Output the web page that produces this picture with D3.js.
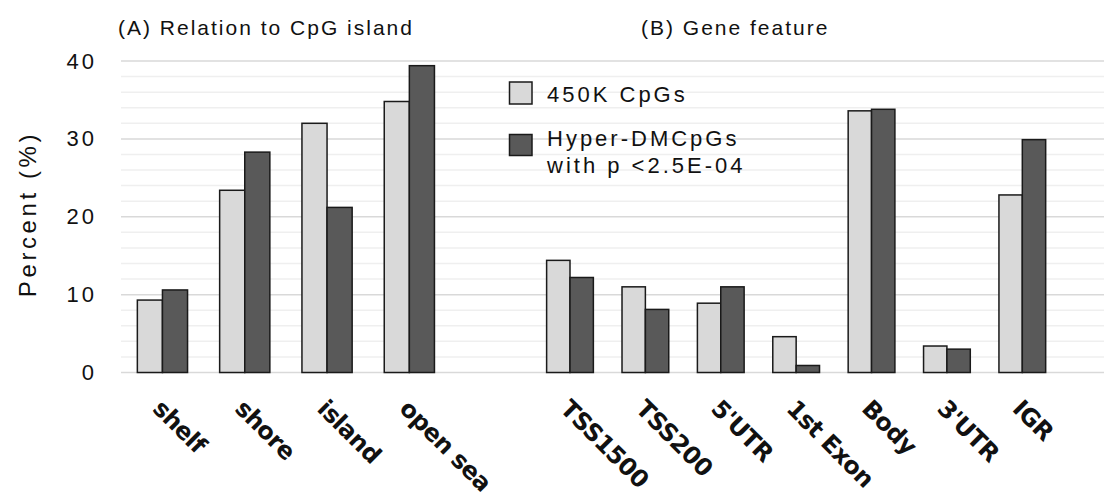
<!DOCTYPE html>
<html>
<head>
<meta charset="utf-8">
<script src="https://cdn.jsdelivr.net/npm/d3@7"></script>
<style>
  body { margin: 0; background: #fff; }
  text { font-family: "Liberation Sans", Arial, sans-serif; fill: #111; }
</style>
</head>
<body>
<div id="chart"></div>
<script>
const width = 1104, height = 502;

// values
const islandCats = ["shelf", "shore", "island", "open sea"];
const island450K = [9.3, 23.4, 32.0, 34.8];
const islandHyper = [10.6, 28.3, 21.2, 39.4];

const geneCats = ["TSS1500", "TSS200", "5'UTR", "1st Exon", "Body", "3'UTR", "IGR"];
const gene450K = [14.4, 11.0, 8.9, 4.6, 33.6, 3.4, 22.8];
const geneHyper = [12.2, 8.1, 11.0, 0.9, 33.8, 3.0, 29.9];

const seriesNames = ["450K CpGs", "Hyper-DMCpGs"];
const seriesColors = ["#d9d9d9", "#595959"];
const yTicks = [0, 10, 20, 30, 40];

let svg = d3.select("#chart")
    .append("svg")
    .attr("width", width)
    .attr("height", height);

let y = d3.scaleLinear()
    .domain([0, 40])
    .range([372.5, 61]);

// gridlines every 2, darker every 10
let grid = svg.append("g");
grid.selectAll("line")
    .data(d3.range(0, 41, 2))
    .enter()
    .append("line")
    .attr("x1", 121)
    .attr("x2", width)
    .attr("y1", d => y(d))
    .attr("y2", d => y(d))
    .attr("stroke", d => d % 10 == 0 ? "#d9d9d9" : "#efefef")
    .attr("stroke-width", 1.5);

let yAxis = svg.append("g")
    .attr("transform", "translate(97, 0)")
    .call(d3.axisLeft(y).tickValues(yTicks).tickSize(0).tickPadding(0));
yAxis.select(".domain").remove();
yAxis.selectAll("text")
    .style("font-family", '"Liberation Sans", Arial, sans-serif')
    .style("font-size", "22px")
    .style("letter-spacing", "3px")
    .attr("fill", "#111");

svg.append("text")
    .attr("transform", `translate(36, 214) rotate(-90)`)
    .style("text-anchor", "middle")
    .style("font-size", "24px")
    .style("letter-spacing", "3.6px")
    .text("Percent (%)");

function drawPanel(cats, vals, range, padding, title, titleX) {
    let x0 = d3.scaleBand()
        .domain(cats)
        .range(range)
        .paddingInner(padding)
        .paddingOuter(padding / 2);

    let x1 = d3.scaleBand()
        .domain(seriesNames)
        .range([0, x0.bandwidth()]);

    let rows = cats.map((c, i) => ({ cat: c, vals: vals.map(v => v[i]) }));

    let groups = svg.append("g").selectAll("g")
        .data(rows)
        .enter()
        .append("g")
        .attr("transform", d => `translate(${x0(d.cat)}, 0)`);

    groups.selectAll("rect")
        .data(d => d.vals.map((v, j) => ({ name: seriesNames[j], value: v, color: seriesColors[j] })))
        .enter()
        .append("rect")
        .attr("x", d => x1(d.name))
        .attr("y", d => y(d.value))
        .attr("width", x1.bandwidth())
        .attr("height", d => y(0) - y(d.value))
        .attr("fill", d => d.color)
        .attr("stroke", "#1a1a1a")
        .attr("stroke-width", 1.5);

    svg.append("g").selectAll("text")
        .data(cats)
        .enter()
        .append("text")
        .attr("transform", d => `translate(${x0(d) + x0.bandwidth() / 2 - 11}, 410) rotate(45)`)
        .style("font-family", '"DejaVu Sans", sans-serif')
        .style("font-weight", "bold")
        .style("font-size", "24px")
        .style("letter-spacing", "-0.6px")
        .text(d => d);

    svg.append("text")
        .attr("x", titleX)
        .attr("y", 35)
        .style("font-size", "21px")
        .style("letter-spacing", "2px")
        .text(title);
}

drawPanel(islandCats, [island450K, islandHyper], [121.3, 450.5], 0.39, "(A) Relation to CpG island", 118);
drawPanel(geneCats, [gene450K, geneHyper], [532.3, 1060], 0.38, "(B) Gene feature", 641);

// legend
let legend = svg.append("g");
legend.append("rect")
    .attr("x", 509.5).attr("y", 82)
    .attr("width", 22.5).attr("height", 22)
    .attr("fill", seriesColors[0])
    .attr("stroke", "#1a1a1a").attr("stroke-width", 1.5);
legend.append("rect")
    .attr("x", 509.5).attr("y", 134.5)
    .attr("width", 22.5).attr("height", 21)
    .attr("fill", seriesColors[1])
    .attr("stroke", "#1a1a1a").attr("stroke-width", 1.5);

let legendText = [
    { t: "450K CpGs", y: 102 },
    { t: "Hyper-DMCpGs", y: 145.5 },
    { t: "with p <2.5E-04", y: 172.5 }
];
legend.selectAll("text.lab")
    .data(legendText)
    .enter()
    .append("text")
    .attr("x", 547)
    .attr("y", d => d.y)
    .style("font-size", "22px")
    .style("letter-spacing", "3px")
    .text(d => d.t);
</script>
</body>
</html>
